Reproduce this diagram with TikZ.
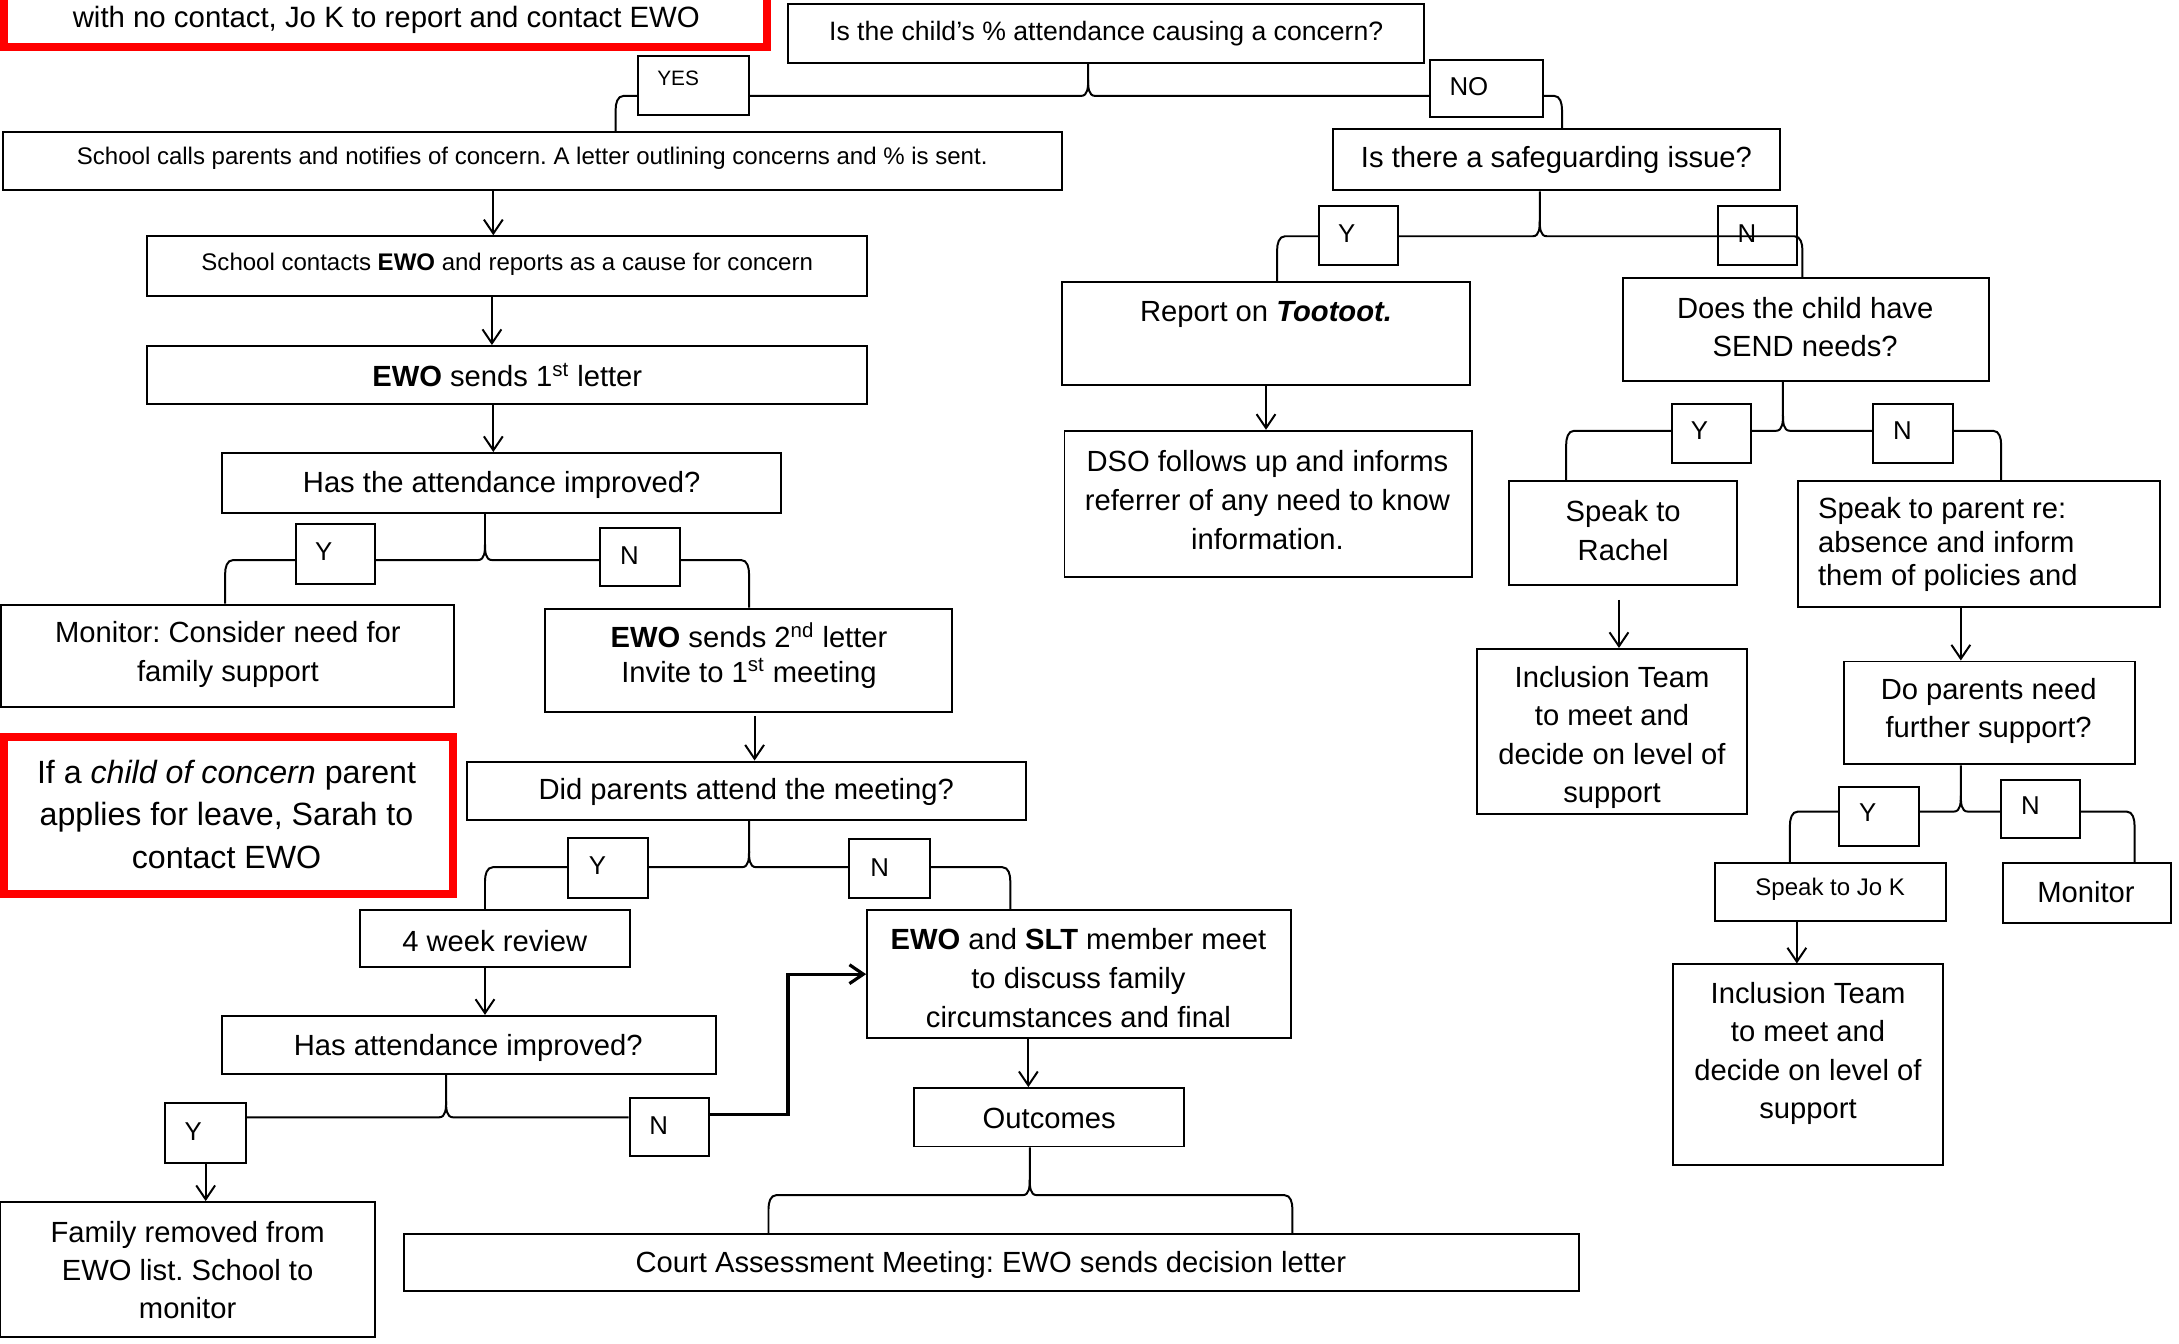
\documentclass[tikz,border=0pt]{standalone}
\usepackage{fontspec}
\setmainfont{Liberation Sans}
\usetikzlibrary{fit,arrows.meta,calc}
\frenchspacing
\newcommand\mybrace[7]{%
 \coordinate (bm) at (#2,#3); \coordinate (bl) at (#4,#3); \coordinate (br) at (#5,#3);
 \draw[conn] (bl |- #6.north) -- ([yshift=-7pt]bl) to[out=90,in=180] ([xshift=4pt]bl) -- ([xshift=-3.5pt]bm) to[out=0,in=-90] ([yshift=8pt]bm) -- (bm |- #1.south);
 \draw[conn] ([yshift=8pt]bm) to[out=-90,in=180] ([xshift=3.5pt]bm) -- ([xshift=-4pt]br) to[out=0,in=90] ([yshift=-7pt]br) -- (br |- #7.north);}
\begin{document}
\frenchspacing
\begin{tikzpicture}[x=0.7pt,y=-0.7pt,
 box/.style={draw, line width=1pt, inner sep=0pt},
 lab/.style={draw, fill=white, line width=1pt, inner sep=0pt},
 redbox/.style={draw=red, line width=4pt, inner sep=0pt},
 txt/.style={inner sep=0pt, align=center, yshift=-1.4pt, font=\fontsize{14.7}{19.6}\selectfont},
 sml/.style={txt, font=\fontsize{12.1}{15}\selectfont},
 yn/.style={inner sep=0pt, font=\fontsize{13}{15}\selectfont},
 conn/.style={line width=1pt},
 arr/.style={conn, -{Straight Barb[length=7pt,width=9.5pt]}}]
\useasboundingbox (0,0) rectangle (1568,967);
\fill[white] (0,0) rectangle (1568,967);

% ---- boxes ----
\node[redbox, fit={(3,-20) (552,34)}] (red1) {};
\node[txt, font=\fontsize{14.8}{18}\selectfont] (red1t) at (278,12) {with no contact, Jo K to report and contact EWO};

\node[box, fit={(567,3) (1025,45)}] (q1) {};
\node[txt, font=\fontsize{13.4}{16}\selectfont] (q1t) at (796,22) {Is the child’s \% attendance causing a concern?};

\node[box, fit={(2,95) (764,137)}] (school) {};
\node[sml] (schoolt) at (383,112) {School calls parents and notifies of concern. A letter outlining concerns and \% is sent.};

\node[box, fit={(106,170) (624,213)}] (contacts) {};
\node[sml] (contactst) at (365,188) {School contacts \textbf{EWO} and reports as a cause for concern};

\node[box, fit={(106,249) (624,291)}] (ewo1) {};
\node[txt] (ewo1t) at (365,268) {\textbf{EWO} sends 1\textsuperscript{st} letter};

\node[box, fit={(160,326) (562,369)}] (improved) {};
\node[txt] (improvedt) at (361,347) {Has the attendance improved?};

\node[box, fit={(1,435) (327,509)}] (monitor) {};
\node[txt] (monitort) at (164,469) {Monitor: Consider need for\\family support};

\node[box, fit={(392,438) (685,512)}] (ewo2) {};
\node[txt, font=\fontsize{14.7}{17.5}\selectfont] (ewo2t) at (539,469.5) {\textbf{EWO} sends 2\textsuperscript{nd} letter\\Invite to 1\textsuperscript{st} meeting};

\node[redbox, fit={(3,530) (326,643)}] (red2) {};
\node[txt, font=\fontsize{16.2}{21.3}\selectfont] (red2t) at (163,584) {If a \textit{child of concern} parent\\applies for leave, Sarah to\\contact EWO};

\node[box, fit={(336,548) (738,590)}] (attend) {};
\node[txt] (attendt) at (537,568) {Did parents attend the meeting?};

\node[box, fit={(259,655) (453,696)}] (review) {};
\node[txt] (reviewt) at (356,675) {4 week review};

\node[box, fit={(624,655) (929,747)}] (slt) {};
\node[txt] (sltt) at (776,702) {\textbf{EWO} and \textbf{SLT} member meet\\to discuss family\\circumstances and final};

\node[box, fit={(160,731) (515,773)}] (improved2) {};
\node[txt] (improved2t) at (337,752) {Has attendance improved?};

\node[box, fit={(658,783) (852,825)}] (outcomes) {};
\node[txt] (outcomest) at (755,803) {Outcomes};

\node[box, fit={(0,865) (270,962)}] (family) {};
\node[txt, font=\fontsize{14.7}{19.3}\selectfont] (familyt) at (135,912) {Family removed from\\EWO list. School to\\monitor};

\node[box, fit={(291,888) (1136,929)}] (court) {};
\node[txt] (courtt) at (713,908) {Court Assessment Meeting: EWO sends decision letter};

\node[box, fit={(959,93) (1281,137)}] (safe) {};
\node[txt] (safet) at (1120,113) {Is there a safeguarding issue?};

\node[box, fit={(764,203) (1058,277)}] (tootoot) {};
\node[txt] (tootoott) at (911,224) {Report on \textbf{\textit{Tootoot.}}};

\node[box, fit={(766,310) (1059,415)}] (dso) {};
\node[txt] (dsot) at (912,358) {DSO follows up and informs\\referrer of any need to know\\information.};

\node[box, fit={(1168,200) (1431,274)}] (send) {};
\node[txt, font=\fontsize{14.7}{18.9}\selectfont] (sendt) at (1299,233.5) {Does the child have\\SEND needs?};

\node[box, fit={(1086,346) (1250,421)}] (rachel) {};
\node[txt] (rachelt) at (1168,380) {Speak to\\Rachel};

\node[box, fit={(1294,346) (1554,437)}] (parent) {};
\node[txt, align=left, anchor=west, font=\fontsize{14.7}{16.8}\selectfont] (parentt) at (1308,390) {Speak to parent re:\\absence and inform\\them of policies and};

\node[box, fit={(1063,467) (1257,586)}] (incl1) {};
\node[txt, font=\fontsize{14.7}{19.4}\selectfont] (incl1t) at (1160,528.5) {Inclusion Team\\to meet and\\decide on level of\\support};

\node[box, fit={(1327,476) (1536,550)}] (doparents) {};
\node[txt, font=\fontsize{14.7}{18.9}\selectfont] (doparentst) at (1431,509.5) {Do parents need\\further support?};

\node[box, fit={(1234,621) (1400,663)}] (jok) {};
\node[sml] (jokt) at (1317,638) {Speak to Jo K};

\node[box, fit={(1441,621) (1562,664)}] (monitor2) {};
\node[txt] (monitor2t) at (1501,640) {Monitor};

\node[box, fit={(1204,694) (1398,838)}] (incl2) {};
\node[txt, font=\fontsize{14.7}{19.4}\selectfont] (incl2t) at (1301,756) {Inclusion Team\\to meet and\\decide on level of\\support};

% ---- braces ----
\mybrace{q1}{783}{69}{443}{1124}{school}{safe}
\mybrace{safe}{1108}{170}{919}{1297}{tootoot}{send}
\mybrace{improved}{349}{403}{162}{539}{monitor}{ewo2}
\mybrace{attend}{539}{624}{349}{727}{review}{slt}
\mybrace{outcomes}{741}{860}{553}{930}{court}{court}
\mybrace{send}{1283}{310}{1127}{1440}{rachel}{parent}
\mybrace{doparents}{1411}{584}{1288}{1536}{jok}{monitor2}

% ---- B5 special brace ----
\node[lab, fit={(119,794) (177,837)}] (y5) {};
\node[yn] (y5t) at (139,814) {Y};
\node[lab, fit={(453,790) (510,832)}] (n5) {};
\node[yn] (n5t) at (474,810) {N};
\coordinate (b5m) at (321,804);
\draw[conn] (y5.east |- b5m) -- ([xshift=-3.5pt]b5m) to[out=0,in=-90] ([yshift=8pt]b5m) -- (b5m |- improved2.south);
\draw[conn] ([yshift=8pt]b5m) to[out=-90,in=180] ([xshift=3.5pt]b5m) -- (n5.west |- b5m);

% ---- arrows ----
\coordinate (xa) at (355,0);
\coordinate (xb) at (354,0);
\coordinate (xc) at (543,0);
\coordinate (xd) at (349,0);
\coordinate (xe) at (740,0);
\coordinate (xf) at (911,0);
\coordinate (xg) at (1165,0);
\coordinate (xh) at (1411,0);
\coordinate (xi) at (1293,0);
\coordinate (elb) at (567,802);
\draw[arr] (school.south -| xa) -- (contacts.north -| xa);
\draw[arr] (contacts.south -| xb) -- (ewo1.north -| xb);
\draw[arr] (ewo1.south -| xa) -- (improved.north -| xa);
\draw[arr, shorten <=2pt] (ewo2.south -| xc) -- (attend.north -| xc);
\draw[arr] (review.south -| xd) -- (improved2.north -| xd);
\draw[arr] (y5.south) -- (family.north -| y5.south);
\draw[arr, line width=1.6pt] (n5.east |- elb) -- (elb) |- (slt.west);
\draw[arr] (slt.south -| xe) -- (outcomes.north -| xe);
\draw[arr] (tootoot.south -| xf) -- (dso.north -| xf);
\draw[arr, shorten <=7pt] (rachel.south -| xg) -- (incl1.north -| xg);
\draw[arr] (parent.south -| xh) -- (doparents.north -| xh);
\draw[arr] (jok.south -| xi) -- (incl2.north -| xi);

% ---- labels ----
\node[lab, fit={(459,40) (539,83)}] (yes1) {};
\node[yn, font=\fontsize{10.5}{12}\selectfont] (yes1t) at (488,56) {YES};
\node[lab, fit={(1029,43) (1110,84)}] (no1) {};
\node[yn] (no1t) at (1057,62) {NO};
\node[lab, fit={(949,148) (1006,191)}] (y2) {};
\node[yn] (y2t) at (969,168) {Y};
\node[box, fit={(1236,148) (1293,191)}] (n2) {};
\node[yn] (n2t) at (1257,168) {N};
\node[lab, fit={(213,377) (270,420)}] (y3) {};
\node[yn] (y3t) at (233,397) {Y};
\node[lab, fit={(432,380) (489,422)}] (n3) {};
\node[yn] (n3t) at (453,400) {N};
\node[lab, fit={(409,603) (466,646)}] (y4) {};
\node[yn] (y4t) at (430,623) {Y};
\node[lab, fit={(611,604) (669,646)}] (n4) {};
\node[yn] (n4t) at (633,624) {N};
\node[lab, fit={(1203,291) (1260,333)}] (y7) {};
\node[yn] (y7t) at (1223,310) {Y};
\node[lab, fit={(1348,291) (1405,333)}] (n7) {};
\node[yn] (n7t) at (1369,310) {N};
\node[lab, fit={(1323,566) (1381,609)}] (y8) {};
\node[yn] (y8t) at (1344,585) {Y};
\node[lab, fit={(1440,561) (1497,603)}] (n8) {};
\node[yn] (n8t) at (1461,580) {N};
\end{tikzpicture}
\end{document}
